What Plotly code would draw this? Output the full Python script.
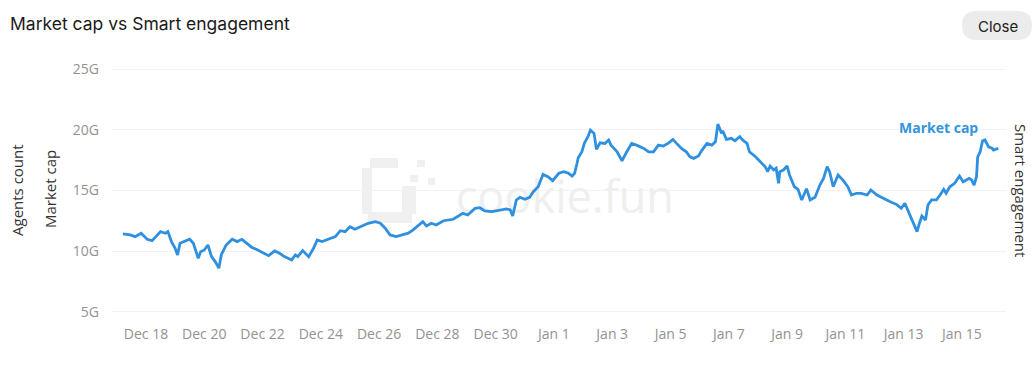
import plotly.graph_objects as go

# ---------------- data ----------------
times = [
    "2024-12-17 05:00", "2024-12-17 11:00", "2024-12-17 15:00", "2024-12-17 20:00",
    "2024-12-18 01:00", "2024-12-18 05:00", "2024-12-18 12:00", "2024-12-18 16:00",
    "2024-12-18 18:00", "2024-12-18 21:00", "2024-12-19 00:00", "2024-12-19 02:00",
    "2024-12-19 04:00", "2024-12-19 08:00", "2024-12-19 12:00", "2024-12-19 15:00",
    "2024-12-19 19:00", "2024-12-19 21:00", "2024-12-20 00:00", "2024-12-20 03:00",
    "2024-12-20 06:00", "2024-12-20 09:00", "2024-12-20 12:00", "2024-12-20 14:00",
    "2024-12-20 18:00", "2024-12-20 23:00", "2024-12-21 03:00", "2024-12-21 07:00",
    "2024-12-21 11:00", "2024-12-21 15:00", "2024-12-21 20:00", "2024-12-22 02:00",
    "2024-12-22 05:00", "2024-12-22 10:00", "2024-12-22 14:00", "2024-12-22 18:00",
    "2024-12-23 00:00", "2024-12-23 03:00", "2024-12-23 05:00", "2024-12-23 09:00",
    "2024-12-23 14:00", "2024-12-23 18:00", "2024-12-23 21:00", "2024-12-24 01:00",
    "2024-12-24 06:00", "2024-12-24 12:00", "2024-12-24 16:00", "2024-12-24 20:00",
    "2024-12-25 00:00", "2024-12-25 04:00", "2024-12-25 10:00", "2024-12-25 15:00",
    "2024-12-25 21:00", "2024-12-26 01:00", "2024-12-26 05:00", "2024-12-26 09:00",
    "2024-12-26 14:00", "2024-12-26 19:00", "2024-12-27 00:00", "2024-12-27 04:00",
    "2024-12-27 07:00", "2024-12-27 12:00", "2024-12-27 15:00", "2024-12-27 19:00",
    "2024-12-27 23:00", "2024-12-28 05:00", "2024-12-28 13:00", "2024-12-28 18:00",
    "2024-12-28 21:00", "2024-12-29 01:00", "2024-12-29 07:00", "2024-12-29 11:00",
    "2024-12-29 15:00", "2024-12-29 21:00", "2024-12-30 01:00", "2024-12-30 05:00",
    "2024-12-30 09:00", "2024-12-30 12:00", "2024-12-30 14:00", "2024-12-30 17:00",
    "2024-12-30 20:00", "2024-12-31 00:00", "2024-12-31 04:00", "2024-12-31 07:00",
    "2024-12-31 11:00", "2024-12-31 15:00", "2024-12-31 19:00", "2024-12-31 23:00",
    "2025-01-01 04:00", "2025-01-01 08:00", "2025-01-01 12:00", "2025-01-01 15:00",
    "2025-01-01 17:00", "2025-01-01 19:00", "2025-01-01 20:00", "2025-01-01 23:00",
    "2025-01-02 01:00", "2025-01-02 04:00", "2025-01-02 06:00", "2025-01-02 09:00",
    "2025-01-02 11:00", "2025-01-02 14:00", "2025-01-02 18:00", "2025-01-02 21:00",
    "2025-01-02 23:00", "2025-01-03 04:00", "2025-01-03 08:00", "2025-01-03 12:00",
    "2025-01-03 16:00", "2025-01-03 20:00", "2025-01-04 02:00", "2025-01-04 06:00",
    "2025-01-04 10:00", "2025-01-04 14:00", "2025-01-04 18:00", "2025-01-04 22:00",
    "2025-01-05 02:00", "2025-01-05 05:00", "2025-01-05 09:00", "2025-01-05 13:00",
    "2025-01-05 16:00", "2025-01-05 19:00", "2025-01-05 23:00", "2025-01-06 02:00",
    "2025-01-06 06:00", "2025-01-06 10:00", "2025-01-06 13:00", "2025-01-06 15:00",
    "2025-01-06 18:00", "2025-01-06 19:00", "2025-01-06 22:00", "2025-01-07 02:00",
    "2025-01-07 05:00", "2025-01-07 09:00", "2025-01-07 12:00", "2025-01-07 15:00",
    "2025-01-07 17:00", "2025-01-07 22:00", "2025-01-08 02:00", "2025-01-08 06:00",
    "2025-01-08 08:00", "2025-01-08 10:00", "2025-01-08 13:00", "2025-01-08 15:00",
    "2025-01-08 17:00", "2025-01-08 18:00", "2025-01-08 21:00", "2025-01-09 00:00",
    "2025-01-09 02:00", "2025-01-09 06:00", "2025-01-09 09:00", "2025-01-09 12:00",
    "2025-01-09 16:00", "2025-01-09 19:00", "2025-01-09 23:00", "2025-01-10 03:00",
    "2025-01-10 06:00", "2025-01-10 09:00", "2025-01-10 11:00", "2025-01-10 14:00",
    "2025-01-10 18:00", "2025-01-10 22:00", "2025-01-11 02:00", "2025-01-11 05:00",
    "2025-01-11 09:00", "2025-01-11 13:00", "2025-01-11 18:00", "2025-01-11 21:00",
    "2025-01-12 02:00", "2025-01-12 07:00", "2025-01-12 13:00", "2025-01-12 18:00",
    "2025-01-12 22:00", "2025-01-13 01:00", "2025-01-13 04:00", "2025-01-13 08:00",
    "2025-01-13 11:00", "2025-01-13 13:00", "2025-01-13 15:00", "2025-01-13 18:00",
    "2025-01-13 20:00", "2025-01-13 23:00", "2025-01-14 03:00", "2025-01-14 06:00",
    "2025-01-14 09:00", "2025-01-14 11:00", "2025-01-14 14:00", "2025-01-14 18:00",
    "2025-01-14 22:00", "2025-01-15 01:00", "2025-01-15 04:00", "2025-01-15 06:00",
    "2025-01-15 08:00", "2025-01-15 10:00", "2025-01-15 12:00", "2025-01-15 13:00",
    "2025-01-15 15:00", "2025-01-15 17:00", "2025-01-15 19:00", "2025-01-15 22:00",
    "2025-01-16 01:00", "2025-01-16 02:00", "2025-01-16 06:00",
]

market_cap_g = [
    11.42, 11.34, 11.20, 11.48,
    10.98, 10.87, 11.61, 11.48,
    11.61, 10.79, 10.24, 9.69,
    10.65, 10.79, 10.98, 10.65,
    9.42, 9.96, 10.10, 10.51,
    9.55, 9.14, 8.60, 9.69,
    10.51, 10.98, 10.79, 10.98,
    10.65, 10.33, 10.10, 9.83,
    9.63, 10.02, 9.83, 9.55,
    9.28, 9.69, 9.55, 10.05,
    9.55, 10.24, 10.93, 10.79,
    10.98, 11.20, 11.69, 11.61,
    12.02, 11.81, 12.08, 12.30,
    12.43, 12.30, 11.89, 11.34,
    11.20, 11.34, 11.48, 11.75,
    12.02, 12.43, 12.08, 12.30,
    12.16, 12.51, 12.63, 12.90,
    13.12, 12.98, 13.53, 13.58,
    13.31, 13.26, 13.34, 13.40,
    13.48, 13.40, 12.90, 14.22,
    14.44, 14.28, 14.44, 14.90,
    15.31, 16.33, 16.14, 15.81,
    16.42, 16.55, 16.42, 16.19,
    16.42, 17.24, 17.70, 18.19,
    18.88, 19.43, 19.98, 19.71,
    18.39, 18.93, 18.88, 19.16,
    18.74, 18.19, 17.45, 18.19,
    18.88, 18.74, 18.47, 18.19,
    18.19, 18.74, 18.66, 18.88,
    19.21, 18.88, 18.47, 18.19,
    17.78, 17.65, 17.84, 18.33,
    18.88, 18.74, 19.02, 20.47,
    19.71, 19.92, 19.21, 19.30,
    19.10, 19.43, 19.10, 18.88,
    18.19, 17.78, 17.37, 16.96,
    16.55, 17.02, 16.69, 16.83,
    15.59, 16.55, 16.69, 17.02,
    16.28, 15.31, 15.10, 14.22,
    15.15, 14.22, 14.44, 15.45,
    16.00, 16.96, 16.55, 15.31,
    16.28, 15.86, 15.31, 14.63,
    14.77, 14.77, 14.63, 15.04,
    14.63, 14.36, 14.08, 13.86,
    13.53, 13.95, 13.26, 12.43,
    11.61, 12.30, 12.90, 12.57,
    13.81, 14.22, 14.22, 14.63,
    15.10, 14.77, 15.31, 15.59,
    16.19, 15.72, 15.86, 16.00,
    15.86, 15.45, 16.14, 17.78,
    18.19, 19.10, 19.16, 18.60,
    18.47, 18.33, 18.47,
]

y_tick_values = [5, 10, 15, 20, 25]
y_tick_labels = ["5G", "10G", "15G", "20G", "25G"]

x_tick_dates = [
    "2024-12-18", "2024-12-20", "2024-12-22", "2024-12-24", "2024-12-26",
    "2024-12-28", "2024-12-30", "2025-01-01", "2025-01-03", "2025-01-05",
    "2025-01-07", "2025-01-09", "2025-01-11", "2025-01-13", "2025-01-15",
]
x_tick_labels = [
    "Dec 18", "Dec 20", "Dec 22", "Dec 24", "Dec 26", "Dec 28", "Dec 30",
    "Jan 1", "Jan 3", "Jan 5", "Jan 7", "Jan 9", "Jan 11", "Jan 13", "Jan 15",
]

title_text = "Market cap vs Smart engagement"
series_name = "Market cap"

# ---------------- layout helpers ----------------
W, H = 1032, 366
ML, MR, MT, MB = 112, 26, 57, 42
PW, PH = W - ML - MR, H - MT - MB


def px(xp):
    return (xp - ML) / PW


def py(yp):
    return (H - MB - yp) / PH


LINE_COLOR = "#2f90df"
TICK_COLOR = "#929292"
TICK_FONT = dict(family="Open Sans", size=14, color=TICK_COLOR)
AXIS_TITLE_FONT = dict(family="Open Sans", size=15, color="#333333")

fig = go.Figure()

# watermark text (drawn before the line so the line sits on top)
fig.add_trace(go.Scatter(
    x=["2025-01-01 09:00"], y=[14.1], mode="text", text=["cookie.fun"],
    textfont=dict(family="Open Sans", size=45, color="#efefef"),
    hoverinfo="skip", showlegend=False,
))

fig.add_trace(go.Scatter(
    x=times, y=market_cap_g, mode="lines", name=series_name,
    line=dict(color=LINE_COLOR, width=2.8),
    showlegend=False,
))

# watermark logo: blocky squares, below traces
logo_blocks = [
    (362, 168, 372, 214), (370, 158, 398, 168), (368, 212, 412, 223),
    (402, 186, 416, 214), (417, 160, 425, 167), (410, 175, 418, 182),
    (428, 178, 435, 185),
]
shapes = []
for x0, y0, x1, y1 in logo_blocks:
    shapes.append(dict(type="rect", xref="paper", yref="paper",
                       x0=px(x0), x1=px(x1), y0=py(y1), y1=py(y0),
                       line=dict(width=0), fillcolor="#f0f0f0", layer="below"))

# Close pill button
r = 14.5
xl, xr, yt, yb = 962, 1032, 11, 40
pts = [
    ("M", (xl + r, yt)), ("L", (xr - r, yt)), ("Q", (xr, yt), (xr, yt + r)),
    ("Q", (xr, yb), (xr - r, yb)), ("L", (xl + r, yb)),
    ("Q", (xl, yb), (xl, yb - r)), ("Q", (xl, yt), (xl + r, yt)),
]
path = ""
for seg in pts:
    cmd = seg[0]
    coords = " ".join(f"{px(a):.5f},{py(b):.5f}" for a, b in seg[1:])
    path += f"{cmd}{coords} "
path += "Z"
shapes.append(dict(type="path", xref="paper", yref="paper", path=path,
                   fillcolor="#ececec", line=dict(width=0), layer="above"))

annotations = [
    dict(text="Close", x=px(998), y=py(27), xref="paper", yref="paper",
         showarrow=False, xanchor="center", yanchor="middle",
         font=dict(family="Inter", size=15, color="#222222")),
    dict(text=series_name, x=px(938), y=py(127), xref="paper", yref="paper",
         showarrow=False, xanchor="center", yanchor="middle",
         font=dict(family="Open Sans", size=14, color="#3494dc", weight="bold")),
    dict(text="Agents count", x=px(17), y=py(190), xref="paper", yref="paper",
         showarrow=False, textangle=-90, xanchor="center", yanchor="middle",
         font=AXIS_TITLE_FONT),
    dict(text="Market cap", x=px(50), y=py(189), xref="paper", yref="paper",
         showarrow=False, textangle=-90, xanchor="center", yanchor="middle",
         font=AXIS_TITLE_FONT),
    dict(text="Smart engagement", x=px(1021), y=py(190), xref="paper", yref="paper",
         showarrow=False, textangle=90, xanchor="center", yanchor="middle",
         font=AXIS_TITLE_FONT),
]

fig.update_layout(
    width=W, height=H,
    margin=dict(l=ML, r=MR, t=MT, b=MB),
    paper_bgcolor="white", plot_bgcolor="white",
    title=dict(text=title_text, x=10 / W, xref="container", xanchor="left",
               y=1 - 24 / H, yref="container", yanchor="middle",
               font=dict(family="Inter", size=17.5, color="#1a1a1a", weight=400)),
    xaxis=dict(
        range=["2024-12-16 20:00", "2025-01-16 12:18"],
        tickvals=x_tick_dates, ticktext=x_tick_labels,
        showgrid=False, zeroline=False, showline=False, ticks="",
        tickfont=TICK_FONT,
    ),
    yaxis=dict(
        range=[4, 26], tickvals=y_tick_values, ticktext=y_tick_labels,
        showgrid=True, gridcolor="#f3f3f3", gridwidth=1,
        zeroline=False, showline=False, ticks="",
        ticklabelstandoff=12, tickfont=TICK_FONT,
    ),
    shapes=shapes, annotations=annotations,
    hovermode=False,
)

fig.write_html("out.html")
